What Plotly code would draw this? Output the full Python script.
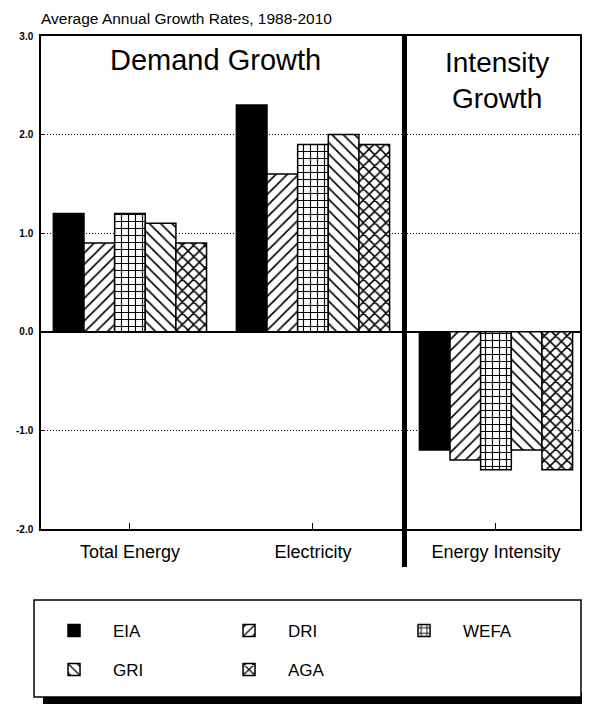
import plotly.graph_objects as go

categories = ["Total Energy", "Electricity", "Energy Intensity"]
eia = [1.2, 2.3, -1.2]
dri = [0.9, 1.6, -1.3]
wefa = [1.2, 1.9, -1.4]
gri = [1.1, 2.0, -1.2]
aga = [0.9, 1.9, -1.4]
series_names = ["EIA", "DRI", "WEFA", "GRI", "AGA"]
tick_vals = [-2, -1, 0, 1, 2, 3]
tick_text = ["-2.0", "-1.0", "0.0", "1.0", "2.0", "3.0"]

FONT = "Liberation Sans, Arial, Helvetica, sans-serif"
OFF = 8  # page body margin offset
W, H = 590 - OFF, 706 - OFF
# page-pixel layout targets
PL, PR, PT, PB = 40, 582, 36, 529
ML, MT = PL - OFF, PT - OFF
MR = W - (PR - OFF)
MB = H - (PB - OFF)
PW = PR - PL
PH = PB - PT


def px_x(px):
    return (px - PL) / PW


def px_y(py):
    return (PB - py) / PH


styles = {
    "EIA": dict(color="black"),
    "DRI": dict(color="white", pattern=dict(shape="/", size=8, solidity=0.2,
                                            fgcolor="black", bgcolor="white", fillmode="replace")),
    "WEFA": dict(color="white", pattern=dict(shape="+", size=7, solidity=0.3,
                                             fgcolor="black", bgcolor="white", fillmode="replace")),
    "GRI": dict(color="white", pattern=dict(shape="\\", size=8, solidity=0.2,
                                            fgcolor="black", bgcolor="white", fillmode="replace")),
    "AGA": dict(color="white", pattern=dict(shape="x", size=8, solidity=0.35,
                                            fgcolor="black", bgcolor="white", fillmode="replace")),
}
values = {"EIA": eia, "DRI": dri, "WEFA": wefa, "GRI": gri, "AGA": aga}
legend_of = {"EIA": "legend", "DRI": "legend", "WEFA": "legend", "GRI": "legend2", "AGA": "legend2"}

fig = go.Figure()
for name in series_names:
    fig.add_trace(go.Bar(
        x=categories, y=values[name], name=name,
        marker=dict(line=dict(color="black", width=1.5), **styles[name]),
        legend=legend_of[name],
    ))

legend_common = dict(
    orientation="h", xanchor="left", yanchor="top",
    bgcolor="rgba(0,0,0,0)", borderwidth=0,
    font=dict(family=FONT, size=17, color="black"),
    itemwidth=68, entrywidth=92, entrywidthmode="pixels",
    traceorder="normal",
)

fig.update_layout(
    width=W, height=H,
    margin=dict(l=ML, r=MR, t=MT, b=MB),
    paper_bgcolor="white", plot_bgcolor="white",
    barmode="group", bargap=0.163, bargroupgap=0,
    font=dict(family=FONT, color="black"),
    showlegend=True,
    legend=dict(x=px_x(34), y=px_y(613), **legend_common),
    legend2=dict(x=px_x(34), y=px_y(652), **legend_common),
    xaxis=dict(
        range=[-0.486, 2.459], showline=True, mirror=True, linecolor="black", linewidth=1.5,
        ticks="inside", ticklen=6, tickcolor="black", tickwidth=1,
        showgrid=False, tickfont=dict(family=FONT, size=18, color="black"),
        ticklabelstandoff=6,
    ),
    yaxis=dict(
        range=[-2, 3], showline=True, mirror=True, linecolor="black", linewidth=1.5,
        tickvals=tick_vals, ticktext=tick_text,
        ticks="inside", ticklen=4, tickcolor="black",
        showgrid=True, gridcolor="black", gridwidth=1, griddash="1px,2px",
        zeroline=True, zerolinecolor="black", zerolinewidth=1.5,
        tickfont=dict(family=FONT, size=10, color="black", weight="bold"),
        ticklabelstandoff=4,
    ),
)

fig.add_annotation(text="Average Annual Growth Rates, 1988-2010", xref="paper", yref="paper",
                   x=px_x(38), y=px_y(19), xanchor="left", yanchor="middle", showarrow=False,
                   font=dict(family=FONT, size=15.5, color="black"))
fig.add_annotation(text="Demand Growth", xref="paper", yref="paper",
                   x=px_x(215), y=px_y(60), xanchor="center", yanchor="middle", showarrow=False,
                   font=dict(family=FONT, size=29, color="black"))
fig.add_annotation(text="Intensity<br>Growth", xref="paper", yref="paper",
                   x=px_x(499), y=px_y(80), xanchor="center", yanchor="middle", showarrow=False,
                   font=dict(family=FONT, size=28, color="black"))

fig.add_shape(type="line", xref="x", yref="paper", x0=1.5, x1=1.5, y0=1, y1=px_y(567),
              line=dict(color="black", width=5), layer="above")

fig.add_shape(type="rect", xref="paper", yref="paper",
              x0=px_x(42), x1=px_x(584), y0=px_y(692), y1=px_y(704),
              fillcolor="black", line=dict(width=0), layer="below")
fig.add_shape(type="rect", xref="paper", yref="paper",
              x0=px_x(33), x1=px_x(583), y0=px_y(600), y1=px_y(697),
              fillcolor="white", line=dict(color="black", width=1.5), layer="below")

fig.write_html("out.html")
